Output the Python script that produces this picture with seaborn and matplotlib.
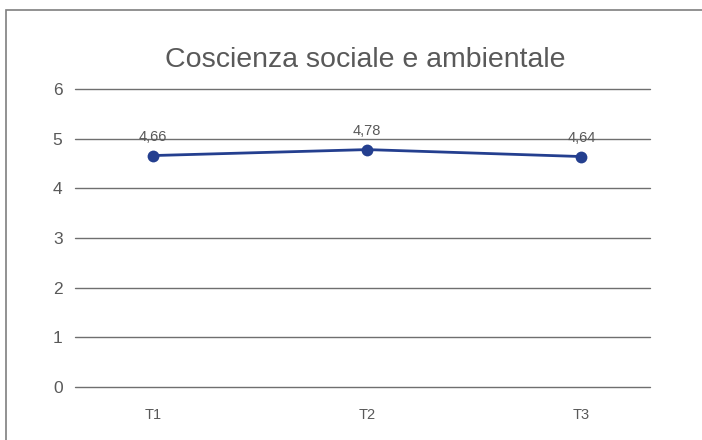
import matplotlib
matplotlib.use("Agg")
import matplotlib.pyplot as plt
import seaborn as sns
import pandas as pd
from matplotlib.patches import Rectangle

categories = ["T1", "T2", "T3"]
values = [4.66, 4.78, 4.64]
labels = ["4,66", "4,78", "4,64"]
yticks = [0, 1, 2, 3, 4, 5, 6]

sns.set_theme(style="white")
plt.rcParams['font.family'] = ['Liberation Sans', 'DejaVu Sans']

W, H = 702, 440
fig = plt.figure(figsize=(W / 100, H / 100), dpi=100)
ax = fig.add_axes([75 / W, (H - 387) / H, (650 - 75) / W, (387 - 89) / H])

df = pd.DataFrame({"cat": categories, "val": values})
x = list(range(len(categories)))
sns.lineplot(x=x, y=values, ax=ax, color="#243f8f", linewidth=2,
             marker="o", markersize=8.5, markeredgewidth=0)

for xi, v, lab in zip(x, values, labels):
    ax.annotate(lab, (xi, v), xytext=(0, 8), textcoords="offset points",
                ha="center", va="bottom", fontsize=10.5, color="#595959")

ax.set_xlim(-0.364, 2.32)
ax.set_ylim(0, 6)
ax.set_yticks(yticks)
ax.set_yticklabels([str(t) for t in yticks])
ax.set_xticks(x)
ax.set_xticklabels(categories)
ax.tick_params(axis="y", length=0, pad=9, labelsize=12.5, labelcolor="#595959")
ax.tick_params(axis="x", length=0, pad=15, labelsize=10.5, labelcolor="#595959")
ax.grid(axis="y", color="#6f6f6f", linewidth=1)
for gl in ax.get_ygridlines():
    gl.set_clip_on(False)
ax.set_axisbelow(True)
for s in ax.spines.values():
    s.set_visible(False)
ax.set_xlabel("")
ax.set_ylabel("")

fig.text(365 / W, (H - 60) / H, "Coscienza sociale e ambientale", ha="center",
         va="center", fontsize=20.5, color="#595959")

fig.patches.append(Rectangle((6 / W, -0.1), 1.1, (H - 10) / H + 0.1,
                             transform=fig.transFigure, fill=False,
                             edgecolor="#7f7f7f", linewidth=1.2))

fig.savefig("out.png", dpi=100)
